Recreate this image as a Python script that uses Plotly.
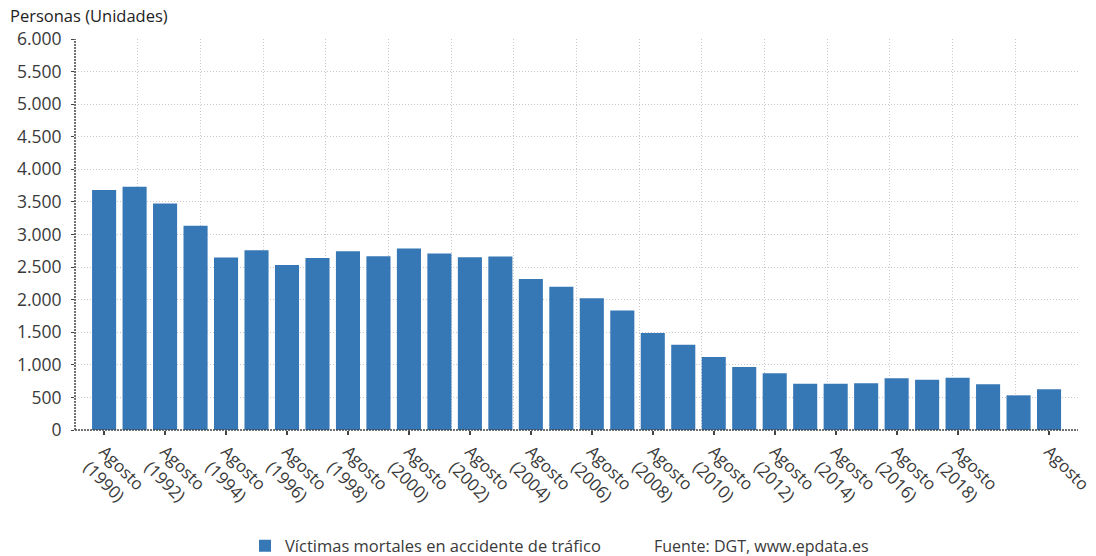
import plotly.graph_objects as go

years = list(range(1990, 2022))
victimas = [3682, 3733, 3477, 3133, 2646, 2759, 2533, 2641, 2744, 2667, 2785, 2708,
            2651, 2662, 2318, 2198, 2021, 1832, 1489, 1310, 1121, 967, 870, 711,
            711, 716, 793, 773, 803, 701, 532, 624]
tick_years = [1990, 1992, 1994, 1996, 1998, 2000, 2002, 2004, 2006, 2008, 2010,
              2012, 2014, 2016, 2018, 2021]
tick_labels = ["Agosto<br>(%d)" % y for y in tick_years[:-1]] + ["Agosto"]
y_ticks = list(range(0, 6001, 500))
y_tick_labels = ["{:,}".format(v).replace(",", ".") for v in y_ticks]

FONT = "Open Sans"
TXT = "#3a3a3a"
GRID = "#c8c8c8"
AXIS = "#444444"

fig = go.Figure()
fig.add_trace(go.Bar(
    x=years, y=victimas, name="Víctimas mortales en accidente de tráfico",
    marker=dict(color="#3677b6", line=dict(width=0)),
))
# empty trace that makes the overlaid grid axis render
fig.add_trace(go.Scatter(x=[], y=[], xaxis="x2", yaxis="y", showlegend=False,
                         hoverinfo="skip"))

fig.update_layout(
    width=1096, height=556,
    margin=dict(l=75, r=18, t=39, b=126, autoexpand=False),
    paper_bgcolor="white", plot_bgcolor="white",
    font=dict(family=FONT, color=TXT, size=15),
    bargap=0.21,
    showlegend=True,
    xaxis=dict(
        range=[years[0] - 0.955, years[-1] + 0.95], automargin=False,
        tickmode="array", tickvals=tick_years, ticktext=tick_labels,
        tickangle=45, ticks="outside", ticklen=4, tickcolor=AXIS, tickwidth=2,
        showgrid=False, zeroline=False, showline=False,
        tickfont=dict(size=17, color=TXT, family=FONT),
    ),
    xaxis2=dict(
        overlaying="x", anchor="y", range=[0, 16], dtick=1, tick0=0,
        showgrid=True, gridcolor=GRID, griddash="1px,2px", gridwidth=1,
        showticklabels=False, ticks="", zeroline=False, showline=False,
    ),
    yaxis=dict(
        range=[0, 6000], tickmode="array", tickvals=y_ticks, ticktext=y_tick_labels,
        automargin=False,
        showgrid=True, gridcolor=GRID, griddash="1px,2px", gridwidth=1,
        ticks="outside", ticklen=3, tickcolor=AXIS, zeroline=False, showline=False,
        ticklabelstandoff=6,
        tickfont=dict(size=17.5, color=TXT, family=FONT),
    ),
    legend=dict(
        orientation="h", x=0.1695, y=-0.297, xanchor="left", yanchor="middle",
        font=dict(size=16.5, color=TXT, family=FONT),
        bgcolor="rgba(0,0,0,0)",
    ),
    annotations=[
        dict(text="Fuente: DGT, www.epdata.es", xref="paper", yref="paper",
             x=0.575, y=-0.297, xanchor="left", yanchor="middle", showarrow=False,
             font=dict(size=16, color=TXT, family=FONT)),
        dict(text="Personas (Unidades)", xref="paper", yref="paper",
             x=-0.067, y=1.06, xanchor="left", yanchor="middle", showarrow=False,
             font=dict(size=16.5, color="#222222", family=FONT)),
    ],
    shapes=[
        dict(type="line", xref="paper", yref="paper", x0=0, x1=0, y0=0, y1=1,
             line=dict(color=AXIS, width=1.5, dash="2px,1px")),
        dict(type="line", xref="paper", yref="paper", x0=0, x1=1, y0=0, y1=0,
             line=dict(color=AXIS, width=1.5, dash="2px,1px")),
    ],
)

fig.write_html("out.html", config={"displayModeBar": False},
               post_script="document.body.style.margin='0';"
                           "document.documentElement.style.overflow='hidden';")
